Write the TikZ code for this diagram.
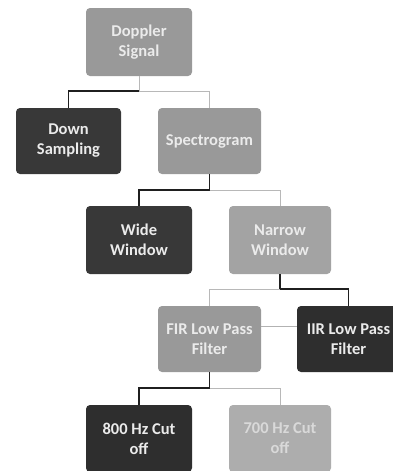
\documentclass[tikz,border=0pt]{standalone}
\usepackage{fontspec}
\setmainfont{Carlito}
\begin{document}
\begin{tikzpicture}[x=1pt,y=-1pt,
  box/.style={rounded corners=4pt,align=center,inner sep=2pt,
    font=\fontsize{16.5}{20}\selectfont\bfseries,text=white!92!black,anchor=center},
  darkbox/.style={box,fill=black!78},
  lightbox/.style={box,fill=black!40},
  darkline/.style={draw=black!88,line width=1.6pt},
  lightline/.style={draw=black!28,line width=1pt}]
\useasboundingbox (0,0) rectangle (393,471);
\clip (0,0) rectangle (393,471);
\fill[white] (0,0) rectangle (393,471);
% nodes
\node[lightbox,minimum width=106pt,minimum height=68pt] (dop) at (139,42) {Doppler\\Signal};
\node[darkbox,minimum width=105pt,minimum height=66pt] (down) at (68.5,141) {Down\\Sampling};
\node[lightbox,minimum width=103pt,minimum height=66pt] (spec) at (209.5,141) {Spectrogram};
\node[darkbox,minimum width=106pt,minimum height=68pt] (wide) at (139,240) {Wide\\Window};
\node[lightbox,fill=black!36,minimum width=102pt,minimum height=68pt] (narrow) at (280,240) {Narrow\\Window};
\node[lightbox,minimum width=103pt,minimum height=66pt] (fir) at (209.5,339) {FIR Low Pass\\Filter};
\node[darkbox,fill=black!82,minimum width=103pt,minimum height=66pt] (iir) at (348.5,339) {IIR Low Pass\\Filter};
\node[darkbox,fill=black!82,minimum width=106pt,minimum height=67pt] (c800) at (139,438.5) {800 Hz Cut\\off};
\node[lightbox,fill=black!32,text=white!85!black,minimum width=102pt,minimum height=67pt] (c700) at (280,438.5) {700 Hz Cut\\off};
% junctions
\coordinate (j1) at (139,91);
\coordinate (j2) at (209.5,190);
\coordinate (j3) at (280,289);
\coordinate (j4) at (209.5,388);
% connectors
\draw[lightline] (dop.south) -- (j1) -| (spec.north);
\draw[darkline] (j1) -| (down.north);
\draw[darkline] (spec.south) -- (j2) -| (wide.north);
\draw[lightline] (j2) -| (narrow.north);
\draw[darkline] (narrow.south) -- (j3) -| (iir.north);
\draw[lightline] (j3) -| (fir.north);
\draw[darkline] (fir.south) -- (j4) -| (c800.north);
\draw[lightline] (j4) -| (c700.north);
\draw[draw=black!30,line width=0.6pt] ([yshift=13pt]fir.east) -- ([yshift=13pt]iir.west);
\end{tikzpicture}
\end{document}
